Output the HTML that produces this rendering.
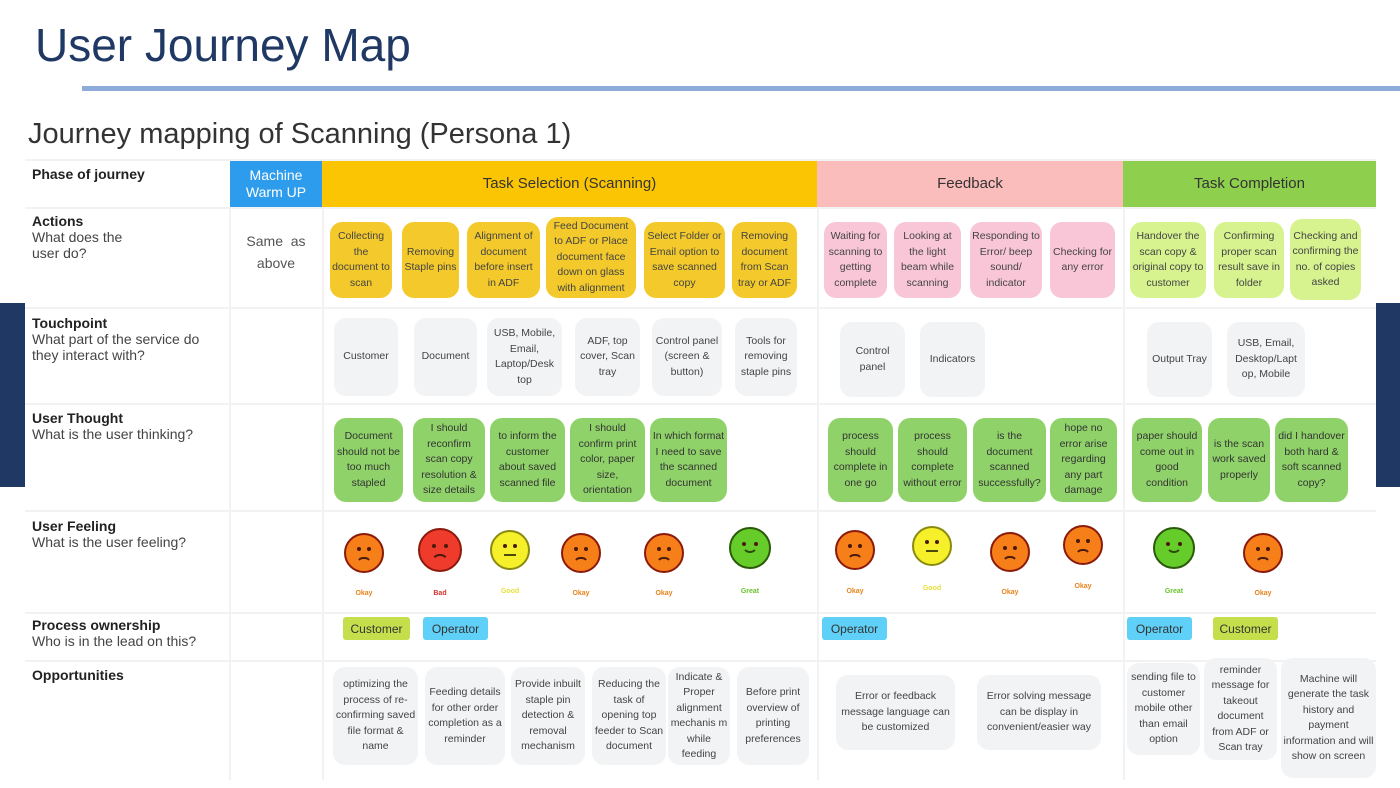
<!DOCTYPE html>
<html><head><meta charset="utf-8"><style>
*{margin:0;padding:0;box-sizing:border-box}
body{width:1400px;height:788px;background:#fff;position:relative;overflow:hidden;font-family:"Liberation Sans",sans-serif}
.a{position:absolute}
.c{position:absolute;display:flex;align-items:center;justify-content:center;text-align:center;border-radius:12px;font-size:10.5px;line-height:15.5px;color:#444;padding:2px}
.y{background:#f3c92b}.p{background:#f9c6d8}.l{background:#d6f38f}.g{background:#f2f3f5}.gr{background:#90d26a;color:#333}
.hd{position:absolute;top:160px;height:47px;display:flex;align-items:center;justify-content:center;font-size:15px;color:#333}
.lab{position:absolute;left:32px;font-size:14px;color:#444;line-height:16px}
.lab b{color:#222}
.hl{position:absolute;left:25px;width:1351px;height:2px;background:#f2f2f2}
.vl{position:absolute;top:207px;height:573px;width:2px;background:#f2f2f2}
.f{position:absolute;border-radius:50%;border:2.5px solid #8b1a0a}
.f::before,.f::after{content:"";position:absolute;top:34%;width:4px;height:4px;border-radius:50%;background:#4a1a0a}
.f::before{left:30%}.f::after{right:30%}
.m{position:absolute;left:28%;width:44%;height:44%;top:60%;border:2px solid transparent;border-top-color:#4a1a0a;border-radius:50%}
.ms{position:absolute;left:28%;width:44%;height:44%;top:18%;border:2px solid transparent;border-bottom-color:#2a4a0a;border-radius:50%}
.mn{position:absolute;left:32%;width:36%;top:62%;height:2px;background:#4a4a0a}
.fl{position:absolute;font-size:7px;font-weight:bold;width:40px;text-align:center}
.t{position:absolute;top:617px;height:23px;border-radius:3px;font-size:12px;display:flex;align-items:center;justify-content:center;color:#333}
</style></head><body>
<div class="a" style="left:35px;top:18px;font-size:46px;color:#1f3864">User Journey Map</div>
<div class="a" style="left:82px;top:86px;width:1318px;height:5px;background:#8fabdc"></div>
<div class="a" style="left:28px;top:118px;font-size:29px;color:#333">Journey mapping of Scanning (Persona 1)</div>
<div class="a" style="left:0;top:303px;width:25px;height:184px;background:#1f3864"></div>
<div class="a" style="left:1376px;top:303px;width:24px;height:184px;background:#1f3864"></div>

<div class="hd" style="left:230px;width:92px;background:#2d9cec;color:#fff;font-size:14px;line-height:17px;text-align:center">Machine<br>Warm UP</div>
<div class="hd" style="left:322px;width:495px;background:#fbc504">Task Selection (Scanning)</div>
<div class="hd" style="left:817px;width:306px;background:#fbbcbc">Feedback</div>
<div class="hd" style="left:1123px;width:253px;background:#8ed04e">Task Completion</div>
<div class="hl" style="top:159px"></div>
<div class="hl" style="top:207px"></div><div class="hl" style="top:307px"></div><div class="hl" style="top:403px"></div><div class="hl" style="top:510px"></div><div class="hl" style="top:612px"></div><div class="hl" style="top:660px"></div>
<div class="vl" style="left:229px"></div><div class="vl" style="left:322px"></div><div class="vl" style="left:817px"></div><div class="vl" style="left:1123px"></div>

<div class="lab" style="top:166px"><b>Phase of journey</b></div>
<div class="lab" style="top:213px"><b>Actions</b><br>What does the<br>user do?</div>
<div class="lab" style="top:315px"><b>Touchpoint</b><br>What part of the service do<br>they interact with?</div>
<div class="lab" style="top:410px"><b>User Thought</b><br>What is the user thinking?</div>
<div class="lab" style="top:518px"><b>User Feeling</b><br>What is the user feeling?</div>
<div class="lab" style="top:617px"><b>Process ownership</b><br>Who is in the lead on this?</div>
<div class="lab" style="top:667px"><b>Opportunities</b></div>
<div class="a" style="left:230px;width:92px;top:230px;text-align:center;font-size:14px;line-height:22px;color:#555">Same&nbsp; as<br>above</div>

<div class="c y" style="left:330px;top:222px;width:62px;height:76px">Collecting the document to scan</div>
<div class="c y" style="left:402px;top:222px;width:57px;height:76px">Removing Staple pins</div>
<div class="c y" style="left:467px;top:222px;width:73px;height:76px">Alignment of document before insert in ADF</div>
<div class="c y" style="left:546px;top:217px;width:90px;height:81px">Feed Document to ADF or Place document face down on glass with alignment</div>
<div class="c y" style="left:644px;top:222px;width:81px;height:76px">Select Folder or Email option to save scanned copy</div>
<div class="c y" style="left:732px;top:222px;width:65px;height:76px">Removing document from Scan tray or ADF</div>
<div class="c p" style="left:824px;top:222px;width:63px;height:76px">Waiting for scanning to getting complete</div>
<div class="c p" style="left:894px;top:222px;width:67px;height:76px">Looking at the light beam while scanning</div>
<div class="c p" style="left:970px;top:222px;width:72px;height:76px">Responding to Error/ beep sound/ indicator</div>
<div class="c p" style="left:1050px;top:222px;width:65px;height:76px">Checking for any error</div>
<div class="c l" style="left:1130px;top:222px;width:76px;height:76px">Handover the scan copy &amp; original copy to customer</div>
<div class="c l" style="left:1214px;top:222px;width:70px;height:76px">Confirming proper scan result save in folder</div>
<div class="c l" style="left:1290px;top:219px;width:71px;height:81px">Checking and confirming the no. of copies asked</div>

<div class="c g" style="left:334px;top:318px;width:64px;height:78px">Customer</div>
<div class="c g" style="left:414px;top:318px;width:63px;height:78px">Document</div>
<div class="c g" style="left:487px;top:318px;width:75px;height:78px">USB, Mobile, Email, Laptop/Desk top</div>
<div class="c g" style="left:575px;top:318px;width:65px;height:78px">ADF, top cover, Scan tray</div>
<div class="c g" style="left:652px;top:318px;width:70px;height:78px">Control panel (screen &amp; button)</div>
<div class="c g" style="left:735px;top:318px;width:62px;height:78px">Tools for removing staple pins</div>
<div class="c g" style="left:840px;top:322px;width:65px;height:75px">Control panel</div>
<div class="c g" style="left:920px;top:322px;width:65px;height:75px">Indicators</div>
<div class="c g" style="left:1147px;top:322px;width:65px;height:75px">Output Tray</div>
<div class="c g" style="left:1227px;top:322px;width:78px;height:75px">USB, Email, Desktop/Lapt op, Mobile</div>

<div class="c gr" style="left:334px;top:418px;width:69px;height:84px">Document should not be too much stapled</div>
<div class="c gr" style="left:413px;top:418px;width:72px;height:84px">I should reconfirm scan copy resolution &amp; size details</div>
<div class="c gr" style="left:490px;top:418px;width:75px;height:84px">to inform the customer about saved scanned file</div>
<div class="c gr" style="left:570px;top:418px;width:75px;height:84px">I should confirm print color, paper size, orientation</div>
<div class="c gr" style="left:650px;top:418px;width:77px;height:84px">In which format I need to save the scanned document</div>
<div class="c gr" style="left:828px;top:418px;width:65px;height:84px">process should complete in one go</div>
<div class="c gr" style="left:898px;top:418px;width:69px;height:84px">process should complete without error</div>
<div class="c gr" style="left:973px;top:418px;width:73px;height:84px">is the document scanned successfully?</div>
<div class="c gr" style="left:1050px;top:418px;width:67px;height:84px">hope no error arise regarding any part damage</div>
<div class="c gr" style="left:1132px;top:418px;width:70px;height:84px">paper should come out in good condition</div>
<div class="c gr" style="left:1208px;top:418px;width:62px;height:84px">is the scan work saved properly</div>
<div class="c gr" style="left:1275px;top:418px;width:73px;height:84px">did I handover both hard &amp; soft scanned copy?</div>

<div class="f" style="left:344px;top:533px;width:40px;height:40px;background:#f77f1a"><div class="m"></div></div><div class="fl" style="left:344px;top:590px;color:#e8841e">Okay</div>
<div class="f" style="left:418px;top:528px;width:44px;height:44px;background:#ee3b2c"><div class="m"></div></div><div class="fl" style="left:420px;top:590px;color:#d8302a">Bad</div>
<div class="f" style="left:490px;top:530px;width:40px;height:40px;background:#f5f02a;border-color:#8a8a10"><div class="mn"></div></div><div class="fl" style="left:490px;top:588px;color:#e6e13a">Good</div>
<div class="f" style="left:561px;top:533px;width:40px;height:40px;background:#f77f1a"><div class="m"></div></div><div class="fl" style="left:561px;top:590px;color:#e8841e">Okay</div>
<div class="f" style="left:644px;top:533px;width:40px;height:40px;background:#f77f1a"><div class="m"></div></div><div class="fl" style="left:644px;top:590px;color:#e8841e">Okay</div>
<div class="f" style="left:729px;top:527px;width:42px;height:42px;background:#66cc2a;border-color:#2a5a0a"><div class="ms"></div></div><div class="fl" style="left:730px;top:588px;color:#6ac430">Great</div>
<div class="f" style="left:835px;top:530px;width:40px;height:40px;background:#f77f1a"><div class="m"></div></div><div class="fl" style="left:835px;top:588px;color:#e8841e">Okay</div>
<div class="f" style="left:912px;top:526px;width:40px;height:40px;background:#f5f02a;border-color:#8a8a10"><div class="mn"></div></div><div class="fl" style="left:912px;top:585px;color:#e6e13a">Good</div>
<div class="f" style="left:990px;top:532px;width:40px;height:40px;background:#f77f1a"><div class="m"></div></div><div class="fl" style="left:990px;top:589px;color:#e8841e">Okay</div>
<div class="f" style="left:1063px;top:525px;width:40px;height:40px;background:#f77f1a"><div class="m"></div></div><div class="fl" style="left:1063px;top:583px;color:#e8841e">Okay</div>
<div class="f" style="left:1153px;top:527px;width:42px;height:42px;background:#66cc2a;border-color:#2a5a0a"><div class="ms"></div></div><div class="fl" style="left:1154px;top:588px;color:#6ac430">Great</div>
<div class="f" style="left:1243px;top:533px;width:40px;height:40px;background:#f77f1a"><div class="m"></div></div><div class="fl" style="left:1243px;top:590px;color:#e8841e">Okay</div>

<div class="t" style="left:343px;width:67px;background:#c5df4c">Customer</div>
<div class="t" style="left:423px;width:65px;background:#5fd0f7">Operator</div>
<div class="t" style="left:822px;width:65px;background:#5fd0f7">Operator</div>
<div class="t" style="left:1127px;width:65px;background:#5fd0f7">Operator</div>
<div class="t" style="left:1213px;width:65px;background:#c5df4c">Customer</div>

<div class="c g" style="left:333px;top:667px;width:85px;height:98px">optimizing the process of re-confirming saved file format &amp; name</div>
<div class="c g" style="left:425px;top:667px;width:80px;height:98px">Feeding details for other order completion as a reminder</div>
<div class="c g" style="left:511px;top:667px;width:74px;height:98px">Provide inbuilt staple pin detection &amp; removal mechanism</div>
<div class="c g" style="left:592px;top:667px;width:74px;height:98px">Reducing the task of opening top feeder to Scan document</div>
<div class="c g" style="left:668px;top:667px;width:62px;height:98px">Indicate &amp; Proper alignment mechanis m while feeding</div>
<div class="c g" style="left:737px;top:667px;width:72px;height:98px">Before print overview of printing preferences</div>
<div class="c g" style="left:836px;top:675px;width:119px;height:75px">Error or feedback message language can be customized</div>
<div class="c g" style="left:977px;top:675px;width:124px;height:75px">Error solving message can be display in convenient/easier way</div>
<div class="c g" style="left:1127px;top:663px;width:73px;height:92px">sending file to customer mobile other than email option</div>
<div class="c g" style="left:1204px;top:658px;width:73px;height:102px">reminder message for takeout document from ADF or Scan tray</div>
<div class="c g" style="left:1281px;top:658px;width:95px;height:120px">Machine will generate the task history and payment information and will show on screen</div>
</body></html>
